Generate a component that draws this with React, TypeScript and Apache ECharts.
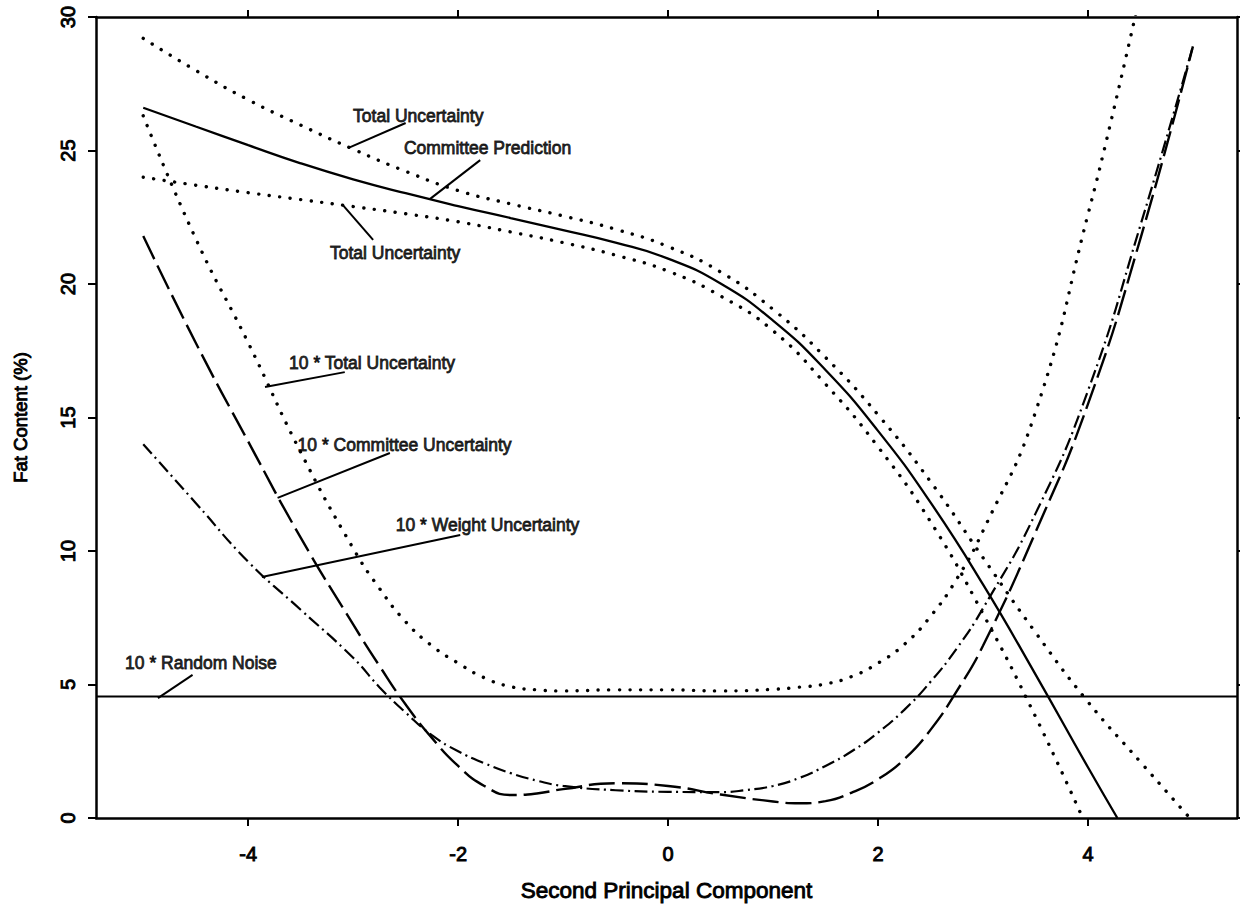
import React, { useEffect, useRef } from "react";
import * as echarts from "echarts";

// ---- axis ----
const xMin = -5.45;
const xMax = 5.42;
const xTicks = [-4, -2, 0, 2, 4];
const yMin = 0;
const yMax = 30;
const yStep = 5;

// ---- series values ----
const predX = [-5, -4.5, -4, -3.5, -3, -2.5, -2, -1.5, -1, -0.5, 0, 0.5, 1, 1.5, 2, 2.5, 3, 3.5, 4, 4.28];
const predY = [26.6, 25.9, 25.2, 24.52, 23.92, 23.4, 22.92, 22.47, 22.02, 21.55, 20.95, 20.02, 18.63, 16.78, 14.5, 11.82, 8.75, 5.38, 1.9, 0];

const tuUpX = [-5, -4.5, -4, -3.5, -3, -2.5, -2, -1.5, -1, -0.5, 0, 0.5, 1, 1.5, 2, 2.5, 3, 3.5, 4, 4.5, 4.97];
const tuUpY = [29.2, 28.0, 26.9, 25.95, 25.05, 24.22, 23.5, 23.0, 22.55, 22.05, 21.4, 20.45, 19.05, 17.25, 15.1, 12.6, 9.75, 6.95, 4.35, 2.1, 0];

const tuLoX = [-5, -4.5, -4, -3.5, -3, -2.5, -2, -1.5, -1, -0.5, 0, 0.5, 1, 1.5, 2, 2.5, 3, 3.5, 3.95];
const tuLoY = [24.0, 23.7, 23.42, 23.16, 22.9, 22.63, 22.33, 21.95, 21.55, 21.08, 20.48, 19.55, 18.25, 16.25, 13.9, 11.1, 7.65, 3.8, 0];

const tu10X = [-5, -4.5, -4, -3.5, -3, -2.75, -2.5, -2.25, -2, -1.75, -1.5, -1.25, -1, -0.5, 0, 0.5, 1, 1.25, 1.5, 1.75, 2, 2.25, 2.5, 2.75, 3, 3.5, 4, 4.25, 4.5];
const tu10Y = [26.3, 21.7, 17.8, 13.7, 10.1, 8.6, 7.35, 6.45, 5.8, 5.25, 4.92, 4.8, 4.76, 4.8, 4.8, 4.76, 4.82, 4.9, 5.02, 5.3, 5.8, 6.5, 7.55, 8.95, 10.75, 15.2, 22.6, 26.6, 30.9];

const cu10X = [-5, -4.5, -4, -3.5, -3, -2.75, -2.5, -2.25, -2, -1.75, -1.5, -1.25, -1, -0.5, 0, 0.5, 1, 1.25, 1.5, 1.75, 2, 2.25, 2.5, 2.75, 3, 3.5, 4, 4.5, 5];
const cu10Y = [21.8, 17.8, 14.1, 10.5, 7.25, 5.7, 4.25, 3.0, 1.95, 1.2, 0.86, 0.92, 1.08, 1.3, 1.2, 0.88, 0.62, 0.55, 0.63, 0.95, 1.45, 2.2, 3.3, 4.75, 6.45, 10.7, 15.5, 21.7, 28.9];

const wu10X = [-5, -4.5, -4, -3.5, -3, -2.75, -2.5, -2.25, -2, -1.75, -1.5, -1.25, -1, -0.5, 0, 0.5, 0.75, 1, 1.25, 1.5, 1.75, 2, 2.25, 2.5, 2.75, 3, 3.5, 4, 4.5, 5];
const wu10Y = [14.0, 11.8, 9.6, 7.8, 6.0, 4.9, 3.95, 3.1, 2.5, 2.05, 1.68, 1.4, 1.2, 1.04, 0.98, 0.97, 1.05, 1.2, 1.5, 1.95, 2.5, 3.2, 4.05, 5.1, 6.35, 7.85, 11.4, 16.0, 22.2, 28.9];

const noiseLevel = 4.55;

// ---- annotations (data coordinates) ----
const annNames = [
  "Total Uncertainty",
  "Committee Prediction",
  "Total Uncertainty",
  "10 * Total Uncertainty",
  "10 * Committee Uncertainty",
  "10 * Weight Uncertainty",
  "10 * Random Noise",
];
const annAt = [
  [-2.38, 26.29],
  [-1.72, 25.09],
  [-2.6, 21.16],
  [-2.82, 17.04],
  [-2.51, 13.97],
  [-1.72, 10.97],
  [-4.45, 5.81],
];
const annFrom = [
  [-3.05, 25.09],
  [-2.27, 23.18],
  [-3.1, 22.96],
  [-3.84, 16.14],
  [-3.72, 11.99],
  [-3.87, 9.03],
  [-4.86, 4.49],
];
const annTo = [
  [-2.5, 26.03],
  [-1.79, 24.64],
  [-2.81, 21.65],
  [-3.08, 16.7],
  [-2.65, 13.67],
  [-1.98, 10.6],
  [-4.53, 5.36],
];

const FONT = '"Liberation Sans", Arial, Helvetica, sans-serif';

const zip = (xs: number[], ys: number[]) => xs.map((x, i) => [x, ys[i]]);

export default function App() {
  const ref = useRef<HTMLDivElement>(null);

  useEffect(() => {
    if (!ref.current) return;
    const chart = echarts.init(ref.current, undefined, { renderer: "svg" });

    const axisLine = { show: true, onZero: false, lineStyle: { color: "#000", width: 2.5 } };
    const textBase = { color: "#000", fontFamily: FONT, textBorderColor: "#000", textBorderWidth: 0.9 };

    const dotted = { color: "#000", width: 3.4, type: [0.1, 10.5], cap: "round" };
    const lineBase = { type: "line", showSymbol: false, symbol: "none", smooth: 0.5, silent: true, z: 3 };

    chart.setOption({
      animation: false,
      backgroundColor: "#fff",
      grid: { left: 96, right: 3, top: 17, bottom: 93, containLabel: false },
      xAxis: [
        {
          type: "value",
          position: "bottom",
          min: xMin,
          max: xMax,
          axisLine,
          axisTick: { show: true, customValues: xTicks, length: 8, lineStyle: { color: "#000", width: 2 } },
          axisLabel: { show: true, customValues: xTicks, fontSize: 20, margin: 26, ...textBase },
          splitLine: { show: false },
          name: "Second Principal Component",
          nameLocation: "middle",
          nameGap: 61,
          nameTextStyle: { fontSize: 22.5, ...textBase },
        },
        {
          type: "value",
          position: "top",
          min: xMin,
          max: xMax,
          axisLine,
          axisTick: { show: true, customValues: xTicks, length: 7, lineStyle: { color: "#000", width: 2 } },
          axisLabel: { show: false },
          splitLine: { show: false },
        },
      ],
      yAxis: [
        {
          type: "value",
          position: "left",
          min: yMin,
          max: yMax,
          interval: yStep,
          axisLine,
          axisTick: { show: true, length: 8, lineStyle: { color: "#000", width: 2 } },
          axisLabel: { show: true, rotate: 90, fontSize: 20, margin: 18, ...textBase },
          splitLine: { show: false },
          name: "Fat Content (%)",
          nameLocation: "middle",
          nameGap: 66,
          nameRotate: 90,
          nameTextStyle: { fontSize: 18.5, ...textBase },
        },
        {
          type: "value",
          position: "right",
          min: yMin,
          max: yMax,
          interval: yStep,
          axisLine,
          axisTick: { show: true, length: 5, lineStyle: { color: "#000", width: 2 } },
          axisLabel: { show: false },
          splitLine: { show: false },
        },
      ],
      series: [
        { ...lineBase, name: "Committee Prediction", data: zip(predX, predY), lineStyle: { color: "#000", width: 2.3 } },
        { ...lineBase, name: "Total Uncertainty (upper)", data: zip(tuUpX, tuUpY), lineStyle: dotted },
        { ...lineBase, name: "Total Uncertainty (lower)", data: zip(tuLoX, tuLoY), lineStyle: dotted },
        { ...lineBase, name: "10 * Total Uncertainty", data: zip(tu10X, tu10Y), lineStyle: dotted },
        {
          ...lineBase,
          name: "10 * Committee Uncertainty",
          data: zip(cu10X, cu10Y),
          lineStyle: { color: "#000", width: 2.4, type: [26, 7] },
        },
        {
          ...lineBase,
          name: "10 * Weight Uncertainty",
          data: zip(wu10X, wu10Y),
          lineStyle: { color: "#000", width: 2.2, type: [13, 4.5, 2, 4.5] },
        },
        {
          ...lineBase,
          smooth: false,
          name: "10 * Random Noise",
          data: [
            [xMin, noiseLevel],
            [xMax, noiseLevel],
          ],
          lineStyle: { color: "#000", width: 1.8 },
        },
        {
          type: "lines",
          coordinateSystem: "cartesian2d",
          silent: true,
          z: 4,
          lineStyle: { color: "#000", width: 2, opacity: 1, curveness: 0 },
          data: annFrom.map((f, i) => ({ coords: [f, annTo[i]] })),
        },
        {
          type: "scatter",
          symbolSize: 0,
          silent: true,
          z: 5,
          data: annNames.map((n, i) => ({ name: n, value: annAt[i] })),
          label: {
            show: true,
            formatter: "{b}",
            position: "inside",
            align: "center",
            verticalAlign: "middle",
            fontSize: 17.5,
            ...textBase,
          },
        },
      ],
    });

    return () => chart.dispose();
  }, []);

  return (
    <div
      ref={ref}
      style={{ position: "fixed", left: 0, top: 0, width: 1240, height: 911, background: "#fff" }}
    />
  );
}
